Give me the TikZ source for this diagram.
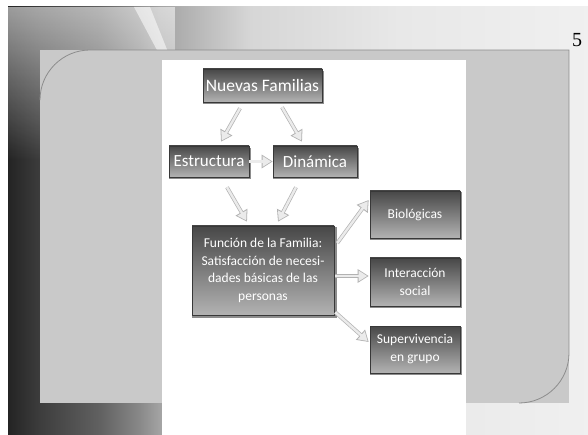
\documentclass[tikz,border=0pt]{standalone}
\usepackage{fontspec}
\setmainfont{Liberation Serif}
\newfontfamily\serf{Liberation Serif}
\newfontfamily\carl{Carlito}
\usetikzlibrary{shadows,arrows.meta,fadings}
\pgfdeclarehorizontalshading{bgshade}{100bp}{color(0bp)=(black!86); color(25bp)=(black!86); color(27.8bp)=(black!76); color(32.9bp)=(black!62); color(36.4bp)=(black!46); color(38.1bp)=(black!36); color(45.9bp)=(black!16); color(58.8bp)=(black!9); color(75bp)=(black!6); color(100bp)=(black!6)}
\tikzfading[name=fadetop, top color=transparent!45, bottom color=transparent!100]
\tikzset{
  grbox/.style={draw=black!78, line width=0.6pt, top color=black!72, bottom color=black!30,
    inner sep=0pt, align=center, text=white,
    drop shadow={shadow xshift=1.2pt, shadow yshift=-1.8pt, shadow scale=1.02, opacity=0.45, fill=black}},
  arr/.style={draw=black!30, line width=3.8pt, -{Triangle[length=11pt,width=13pt]},
    postaction={draw=black!8, line width=2.4pt, shorten >=1.5pt, -{Triangle[length=8.5pt,width=10pt]}}}
}
\begin{document}
\begin{tikzpicture}[x=1pt,y=-1pt]
\useasboundingbox (0,0) rectangle (588,435);
% background
\fill[white] (0,0) rectangle (588,435);
\shade[shading=bgshade] (8,7) rectangle (588,435);
\fill[white, path fading=fadetop] (8,7) rectangle (175,160);
\fill[white, opacity=0.55] (134,7) -- (150,7) -- (168,52) -- (158,52) -- cycle;
% panel
\fill[black!21] (40,50) rectangle (569,403);
\draw[black!45, line width=0.8pt] (40,100) arc[start angle=180, end angle=270, radius=50]
  -- (569,50) -- (569,353) arc[start angle=0, end angle=90, radius=50];
% white sheet
\fill[white] (162,60) rectangle (466,435);
% page number
\node[font=\serf\fontsize{20}{22}\selectfont, inner sep=0pt] (pg) at (577,40) {5};
% boxes
\node[grbox, minimum width=119pt, minimum height=33pt, font=\carl\fontsize{17.5}{20}\selectfont] (nf) at (262.5,85.5) {Nuevas Familias};
\node[grbox, minimum width=80pt, minimum height=31pt, font=\carl\fontsize{17}{20}\selectfont] (es) at (209,161.5) {Estructura};
\node[grbox, minimum width=84pt, minimum height=31pt, font=\carl\fontsize{17}{20}\selectfont] (di) at (315,161.5) {Dinámica};
\node[grbox, minimum width=142pt, minimum height=89pt, font=\carl\fontsize{13.5}{17.5}\selectfont] (fu) at (263,270.5)
  {Función de la Familia:\\Satisfacción de necesi-\\dades básicas de las\\personas};
\node[grbox, minimum width=90pt, minimum height=47pt, font=\carl\fontsize{13.5}{18}\selectfont] (bi) at (415,214.5) {Biológicas};
\node[grbox, minimum width=90pt, minimum height=48pt, font=\carl\fontsize{13.5}{18}\selectfont] (in) at (415,282) {Interacción\\social};
\node[grbox, minimum width=90pt, minimum height=47pt, font=\carl\fontsize{13.5}{18}\selectfont] (su) at (415,349.5) {Supervivencia\\en grupo};
% arrows
\draw[arr] ([xshift=-22.5pt,yshift=-6pt]nf.south) -- ([xshift=12pt,yshift=4pt]es.north);
\draw[arr] ([xshift=19.5pt,yshift=-5pt]nf.south) -- ([xshift=-13pt,yshift=4pt]di.north);
\draw[arr] (es.east) -- (di.west);
\draw[arr] ([xshift=18pt,yshift=-10pt]es.south) -- ([xshift=-16pt,yshift=4pt]fu.north);
\draw[arr] ([xshift=-19pt,yshift=-10pt]di.south) -- ([xshift=15pt,yshift=4pt]fu.north);
\draw[arr] ([xshift=3pt,yshift=27.5pt]fu.east) -- ([xshift=-1pt,yshift=14.5pt]bi.west);
\draw[arr] ([xshift=1pt,yshift=-5.5pt]fu.east) -- ([xshift=-1pt,yshift=6pt]in.west);
\draw[arr] ([xshift=1pt,yshift=3pt]fu.south east) -- ([xshift=-1pt,yshift=7.5pt]su.west);
\end{tikzpicture}
\end{document}
